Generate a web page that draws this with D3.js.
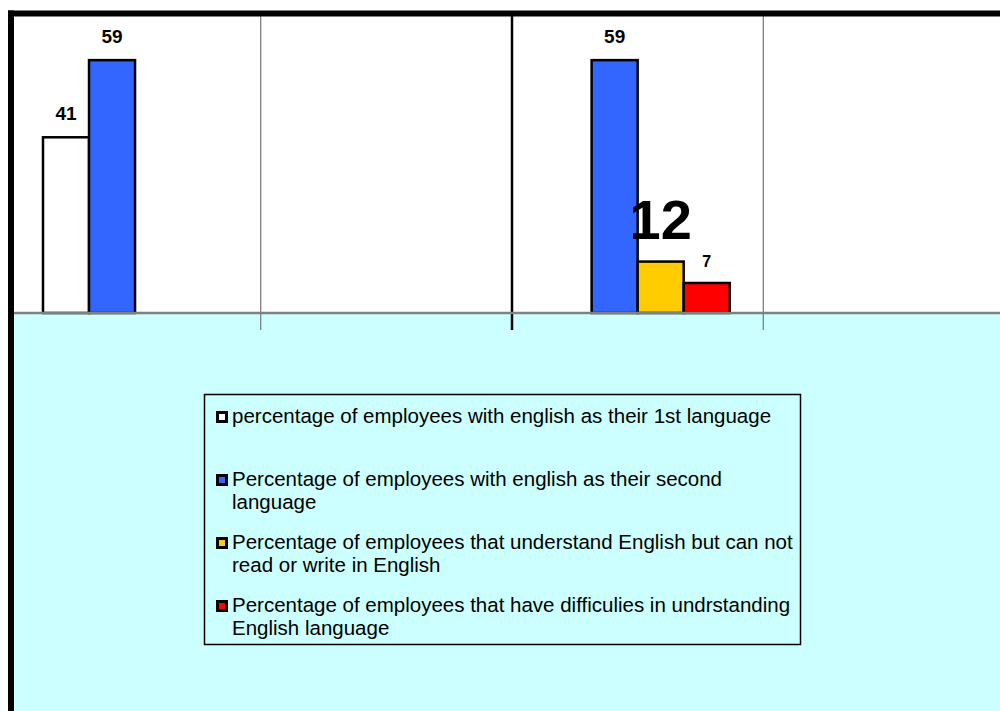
<!DOCTYPE html>
<html>
<head>
<meta charset="utf-8">
<script src="https://cdn.jsdelivr.net/npm/d3@7"></script>
<style>
  html, body { margin: 0; padding: 0; background: #fff; }
  svg { display: block; font-family: "Liberation Sans", Arial, sans-serif; }
</style>
</head>
<body>
<div id="chart"></div>
<script>
// categories are not labelled in the original chart
var categories = ["Group 1", "Group 2", "Group 3", "Group 4"];
var seriesNames = [
  "percentage of employees with english as their 1st language",
  "Percentage of employees with english as their second language",
  "Percentage of employees that understand English but can not read or write in English",
  "Percentage of employees that have difficulies in undrstanding English language"
];
var firstLanguage  = [41, null, null, null];
var secondLanguage = [59, null, 59, null];
var understandOnly = [null, null, 12, null];
var difficulties   = [null, null, 7, null];
var yTicks = [0, 70];

var seriesValues = [firstLanguage, secondLanguage, understandOnly, difficulties];
var seriesColors = ["#ffffff", "#3366ff", "#ffcc00", "#ff0000"];
var labelSize = [19, 19, 56, 16];
var labelGap = [17, 17, 23, 16];

var W = 1000, H = 711;
var svg = d3.select('#chart').append('svg')
  .attr('width', W)
  .attr('height', H);

var x0 = d3.scaleBand()
  .domain(categories)
  .range([9.4, 1014.6])
  .padding(0);

var x1 = d3.scaleBand()
  .domain(d3.range(seriesNames.length))
  .range([0, x0.bandwidth()])
  .paddingInner(0)
  .paddingOuter(0.73);

var y = d3.scaleLinear()
  .domain(d3.extent(yTicks))
  .range([313, 13]);

// chart area + plot area
svg.append('rect')
  .attr('x', 14).attr('y', 16)
  .attr('width', W - 14).attr('height', H - 16)
  .attr('fill', '#ccffff');
svg.append('rect')
  .attr('x', 14).attr('y', 16)
  .attr('width', W - 14).attr('height', y(0) - 16)
  .attr('fill', '#ffffff');

// category dividers (gridlines + ticks below the axis)
svg.selectAll('line.grid')
  .data(categories.slice(1))
  .enter().append('line')
    .attr('class', 'grid')
    .attr('x1', function(d) { return x0(d); })
    .attr('x2', function(d) { return x0(d); })
    .attr('y1', 16)
    .attr('y2', y(0) + 17)
    .attr('stroke', function(d, i) { return i == 1 ? '#000' : '#808080'; })
    .attr('stroke-width', function(d, i) { return i == 1 ? 2.5 : 1.3; });

// bars
var groups = svg.selectAll('g.series')
  .data(seriesValues)
  .enter().append('g')
    .attr('class', 'series');

groups.each(function(vals, si) {
  var g = d3.select(this);
  var pts = vals.map(function(v, ci) { return {v: v, c: categories[ci]}; })
    .filter(function(p) { return p.v != null; });

  g.selectAll('rect')
    .data(pts)
    .enter().append('rect')
      .attr('x', function(p) { return x0(p.c) + x1(si); })
      .attr('y', function(p) { return y(p.v); })
      .attr('width', x1.bandwidth())
      .attr('height', function(p) { return y(0) - y(p.v); })
      .attr('fill', seriesColors[si])
      .attr('stroke', '#000')
      .attr('stroke-width', 2.5);
});

// baseline
svg.append('line')
  .attr('x1', 14).attr('x2', W)
  .attr('y1', y(0)).attr('y2', y(0))
  .attr('stroke', '#808080')
  .attr('stroke-width', 2.5);

// value labels
groups.each(function(vals, si) {
  var g = d3.select(this);
  var pts = vals.map(function(v, ci) { return {v: v, c: categories[ci]}; })
    .filter(function(p) { return p.v != null; });

  g.selectAll('text')
    .data(pts)
    .enter().append('text')
      .attr('x', function(p) { return x0(p.c) + x1(si) + x1.bandwidth() / 2; })
      .attr('y', function(p) { return y(p.v) - labelGap[si]; })
      .attr('text-anchor', 'middle')
      .attr('font-weight', 'bold')
      .attr('font-size', labelSize[si] + 'px')
      .attr('fill', '#000')
      .text(function(p) { return p.v; });
});

// outer frame (top and left)
svg.append('rect')
  .attr('x', 8).attr('y', 10.5)
  .attr('width', W - 8).attr('height', 6)
  .attr('fill', '#000');
svg.append('rect')
  .attr('x', 8).attr('y', 10.5)
  .attr('width', 6).attr('height', H - 10.5)
  .attr('fill', '#000');

// legend
var legend = svg.append('g').attr('class', 'legend');
legend.append('rect')
  .attr('x', 204.5).attr('y', 394.5)
  .attr('width', 596).attr('height', 250)
  .attr('fill', 'none')
  .attr('stroke', '#000')
  .attr('stroke-width', 1.5);

var maxW = 565;
seriesNames.forEach(function(name, i) {
  var base = 423 + i * 63;
  var item = legend.append('g');
  item.append('rect')
    .attr('x', 216).attr('y', base - 12)
    .attr('width', 12).attr('height', 12)
    .attr('fill', '#000');
  item.append('rect')
    .attr('x', 219).attr('y', base - 9)
    .attr('width', 6).attr('height', 6)
    .attr('fill', seriesColors[i]);

  var t = item.append('text')
    .attr('x', 232).attr('y', base)
    .attr('font-size', '20.5px')
    .attr('fill', '#000');

  // simple word wrap
  var words = name.split(' ');
  var line = [];
  var lineNo = 0;
  var tspan = t.append('tspan').attr('x', 232).attr('y', base);
  words.forEach(function(w) {
    line.push(w);
    tspan.text(line.join(' '));
    if (tspan.node().getComputedTextLength() > maxW && line.length > 1) {
      line.pop();
      tspan.text(line.join(' '));
      line = [w];
      lineNo++;
      tspan = t.append('tspan')
        .attr('x', 232)
        .attr('y', base + lineNo * 22.5)
        .text(w);
    }
  });
});
</script>
</body>
</html>
